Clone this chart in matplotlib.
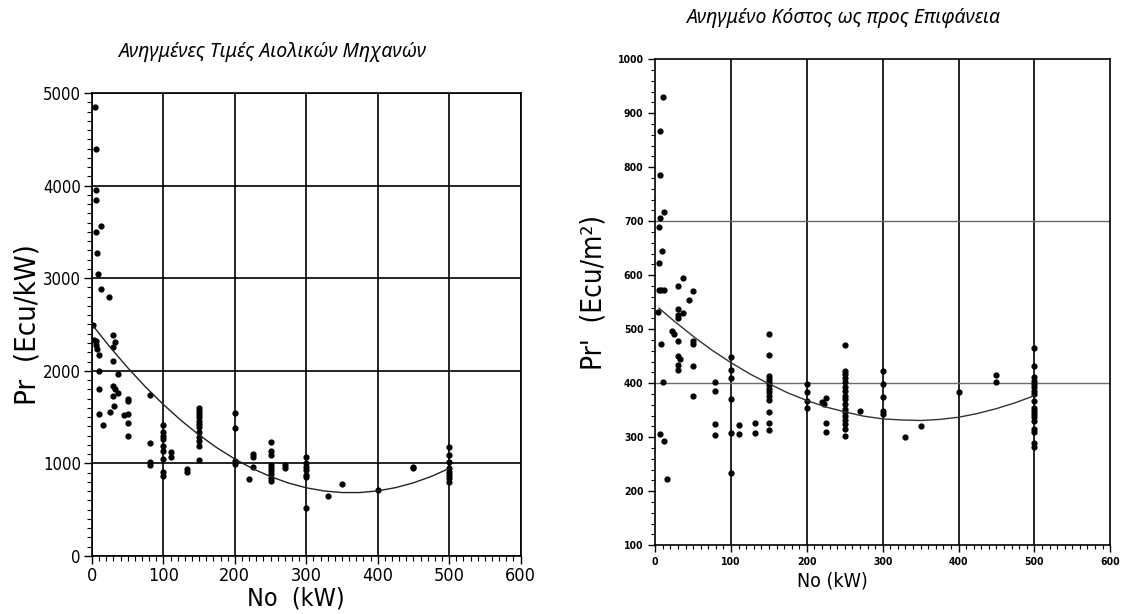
import matplotlib
matplotlib.use("Agg")
import matplotlib.pyplot as plt
from matplotlib.ticker import MultipleLocator

# ---- left chart: specific price per kW vs rated power ----
left_kw = [4, 5, 5, 5, 12, 6, 7, 9, 12, 24,
           2, 3, 6, 6, 7, 10, 10, 29, 32, 29, 29, 37, 10, 30, 32, 30, 36,
           50, 50, 10, 25, 31, 16, 45, 50, 50, 50,
           81, 81, 81, 81,
           100, 100, 100, 100, 100, 100, 100, 100, 100,
           111, 111, 133, 133,
           150, 150, 150, 150, 150, 150, 150, 150, 150, 150, 150, 150,
           200, 200, 200, 200,
           220, 225, 225, 225,
           250, 250, 250, 250, 250, 250, 250, 250, 250,
           270, 270,
           300, 300, 300, 300, 300, 300, 300,
           330, 350, 400, 450, 450,
           500, 500, 500, 500, 500, 500, 500, 500]
left_price = [4850, 4400, 3950, 3850, 3560, 3500, 3270, 3050, 2880, 2800,
              2490, 2330, 2320, 2280, 2240, 2170, 2000, 2390, 2310, 2260, 2110, 1970, 1800, 1840, 1800, 1725, 1760,
              1700, 1670, 1530, 1550, 1625, 1410, 1520, 1530, 1440, 1300,
              1740, 1225, 1020, 985,
              1410, 1340, 1300, 1260, 1190, 1135, 1045, 905, 860,
              1125, 1065, 940, 905,
              1600, 1570, 1535, 1500, 1460, 1425, 1390, 1335, 1280, 1245, 1190, 1035,
              1540, 1380, 1030, 995,
              830, 1100, 1065, 960,
              1235, 1130, 1095, 985, 950, 915, 880, 840, 805,
              980, 955,
              1070, 1000, 965, 930, 875, 855, 515,
              650, 775, 715, 965, 945,
              1180, 1090, 1020, 945, 910, 875, 840, 800]
left_fit_kw = [2, 25, 50, 75, 100, 125, 150, 175, 200, 225, 250, 275,
               300, 325, 350, 375, 400, 425, 450, 475, 500]
left_fit_price = [2480, 2258, 2033, 1825, 1635, 1462, 1306, 1168, 1047, 943, 857, 788,
                  736, 702, 685, 685, 703, 738, 790, 859, 946]

# ---- right chart: specific price per rotor area vs rated power ----
right_kw = [10, 6, 6, 11, 6, 5, 9, 5, 36, 5, 8, 11, 30, 50, 44, 4, 30, 36, 30, 30,
            22, 25, 50, 50, 30, 8, 30, 33, 30, 30, 50, 10, 79, 79, 50,
            100, 100, 100, 100, 100, 100,
            79, 79, 110, 110, 131, 131, 6, 12, 15,
            150, 150, 150, 150, 150, 150, 150, 150, 150, 150, 150, 150, 150,
            200, 200, 200, 200,
            220, 222, 225, 225, 225,
            250, 250, 250, 250, 250, 250, 250, 250, 250, 250, 250, 250, 250, 250, 250, 250, 250,
            270,
            300, 300, 300, 300, 300,
            329, 350, 400, 450, 450,
            500, 500, 500, 500, 500, 500, 500, 500, 500, 500, 500, 500, 500, 500, 500, 500, 500, 500]
right_price = [930, 867, 785, 717, 706, 689, 644, 623, 594, 573, 573, 573, 581, 571, 555, 532, 538, 531, 526, 520,
               496, 492, 479, 473, 478, 472, 450, 445, 433, 424, 432, 402, 402, 385, 377,
               448, 424, 409, 370, 307, 233,
               324, 304, 322, 306, 327, 307, 306, 293, 223,
               491, 453, 414, 407, 402, 396, 390, 384, 376, 369, 347, 326, 314,
               399, 383, 368, 355,
               365, 362, 373, 327, 309,
               470, 423, 417, 409, 402, 393, 385, 377, 370, 362, 353, 346, 340, 332, 324, 316, 302,
               349,
               423, 399, 374, 349, 343,
               301, 321, 383, 415, 403,
               465, 431, 411, 405, 399, 393, 386, 380, 368, 355, 349, 343, 337, 330, 315, 309, 290, 281]
right_fit_kw = [5, 25, 50, 75, 100, 125, 150, 175, 200, 225, 250, 275,
                300, 325, 350, 375, 400, 425, 450, 475, 500]
right_fit_price = [539, 515, 487, 461, 438, 417, 399, 382, 368, 356, 347, 339,
                   334, 332, 331, 333, 337, 344, 353, 364, 377]

TICK_FONT = dict(family="DejaVu Sans", stretch="condensed")
TITLE_FONT = ["Noto Sans", "DejaVu Sans"]

fig = plt.figure(figsize=(11.22, 6.14), dpi=100)
fig.patch.set_facecolor("white")

# left panel
ax1 = fig.add_axes([0.082, 0.0945, 0.382, 0.754])
ax1.set_xlim(0, 600)
ax1.set_ylim(0, 5000)
ax1.xaxis.set_major_locator(MultipleLocator(100))
ax1.xaxis.set_minor_locator(MultipleLocator(10))
ax1.yaxis.set_major_locator(MultipleLocator(1000))
ax1.yaxis.set_minor_locator(MultipleLocator(100))
ax1.grid(True, which="major", color="black", linewidth=1.2)
ax1.set_axisbelow(True)
ax1.scatter(left_kw, left_price, s=12, color="black", zorder=3)
ax1.plot(left_fit_kw, left_fit_price, color="#222222", linewidth=1.0, zorder=3)
ax1.tick_params(which="major", length=6, width=1.0, direction="out", pad=2)
ax1.tick_params(which="minor", length=3.5, width=0.8, direction="out")
for lab in ax1.get_xticklabels():
    lab.set(**TICK_FONT, fontsize=13)
for lab in ax1.get_yticklabels():
    lab.set(**TICK_FONT, fontsize=12)
ax1.set_xlabel("No  (kW)", fontsize=18, **TICK_FONT)
ax1.set_ylabel("Pr  (Ecu/kW)", fontsize=21, **TICK_FONT)
ax1.xaxis.set_label_coords(0.475, -0.066)
ax1.yaxis.set_label_coords(-0.118, 0.50)
for sp in ax1.spines.values():
    sp.set_linewidth(1.2)

# right panel
ax2 = fig.add_axes([0.584, 0.112, 0.4055, 0.7915])
ax2.set_xlim(0, 600)
ax2.set_ylim(100, 1000)
ax2.xaxis.set_major_locator(MultipleLocator(100))
ax2.xaxis.set_minor_locator(MultipleLocator(10))
ax2.yaxis.set_major_locator(MultipleLocator(100))
ax2.yaxis.set_minor_locator(MultipleLocator(20))
for xv in range(100, 600, 100):
    ax2.axvline(xv, color="black", linewidth=1.2, zorder=1)
for yv in (400, 700):
    ax2.axhline(yv, color="#6f6a6a", linewidth=1.0, zorder=1)
ax2.scatter(right_kw, right_price, s=12, color="black", zorder=3)
ax2.plot(right_fit_kw, right_fit_price, color="#333333", linewidth=1.0, zorder=3)
ax2.tick_params(which="major", length=5, width=1.0, direction="out")
ax2.tick_params(which="minor", length=3, width=0.8, direction="out")
for lab in ax2.get_xticklabels() + ax2.get_yticklabels():
    lab.set(**TICK_FONT, fontsize=7.5, fontweight="bold")
ax2.set_xlabel("No (kW)", fontsize=14, **TICK_FONT)
ax2.set_ylabel("Pr'  (Ecu/m²)", fontsize=20, **TICK_FONT)
ax2.xaxis.set_label_coords(0.39, -0.055)
ax2.yaxis.set_label_coords(-0.105, 0.52)
for sp in ax2.spines.values():
    sp.set_linewidth(1.2)

fig.text(272 / 1122, 1 - 52 / 614, "Ανηγμένες Τιμές Αιολικών Μηχανών",
         ha="center", va="center", fontsize=14, style="italic", family=TITLE_FONT)
fig.text(843 / 1122, 1 - 18 / 614, "Ανηγμένο Κόστος ως προς Επιφάνεια",
         ha="center", va="center", fontsize=14, style="italic", family=TITLE_FONT)

fig.savefig("out.png", dpi=100, facecolor="white")
